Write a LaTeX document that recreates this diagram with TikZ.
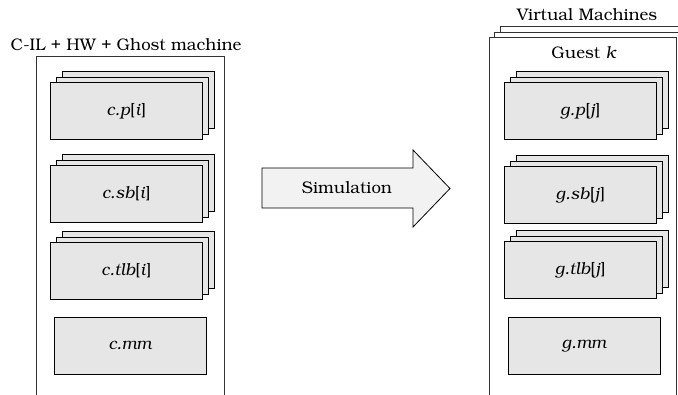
\documentclass[tikz,border=0pt]{standalone}
\usepackage[T1]{fontenc}
\usepackage{bookman}
\usetikzlibrary{positioning}

\definecolor{boxfill}{HTML}{E6E6E6}
\definecolor{arrowfill}{HTML}{F2F2F2}
\definecolor{frameline}{HTML}{333333}

\tikzset{
  layer/.style={draw=black, fill=boxfill, line width=0.9pt, anchor=north west,
    inner sep=0pt, minimum width=152pt, minimum height=57pt},
  frame/.style={draw=frameline, line width=0.8pt},
  caption/.style={inner sep=0pt, font=\fontsize{16.8}{19}\selectfont},
  lbl/.style={inner sep=0pt, font=\fontsize{16.8}{19}\selectfont}
}

% three stacked sheets: back, middle, front (front is named #1)
\newcommand{\sheetstack}[4]{%
  \node[layer] (#1-b2) at (#2+12,#3-11) {};
  \node[layer] (#1-b1) at (#2+6,#3-5.5) {};
  \node[layer] (#1) at (#2,#3) {};
  \node[lbl] (#1-t) at (#1.center) {#4};
}

\begin{document}
\begin{tikzpicture}[x=1pt,y=-1pt]
\useasboundingbox (0,0) rectangle (678,394);

% ---- concrete machine (left) ----
\node[caption] (ctitle) at (126,45) {C-IL + HW + Ghost machine};
\coordinate (cbl) at (36,400);
\coordinate (cbr) at (224,400);
\draw[frame] (cbl) -- (36,56) -- (224,56) -- (cbr);

\sheetstack{cp}{50}{82}{\textit{c.p}[\textit{i}]}
\sheetstack{csb}{50}{165}{\textit{c.sb}[\textit{i}]}
\sheetstack{ctlb}{50}{242}{\textit{c.tlb}[\textit{i}]}
\node[layer] (cmm) at (54,317) {};
\node[lbl] (cmm-t) at (cmm.center) {\textit{c.mm}};

% ---- simulation arrow ----
\filldraw[draw=black, fill=arrowfill, line width=0.8pt]
  (262,168) -- (413,168) -- (413,150) -- (450,188.5) -- (413,227) -- (413,208) -- (262,208) -- cycle;
\node[lbl] (sim) at (347,188) {Simulation};

% ---- virtual machines (right) ----
\node[caption] (vtitle) at (587,15) {Virtual Machines};
\draw[frame, fill=white] (500,400) -- (500,26) -- (690,26) -- (690,400);
\draw[frame, fill=white] (494,400) -- (494,32) -- (690,32) -- (690,400);
\draw[frame, fill=white] (489,400) -- (489,37) -- (676.5,37) -- (676.5,400);
\node[caption] (gtitle) at (584,53) {Guest \textit{k}};

\sheetstack{gp}{504}{82}{\textit{g.p}[\textit{j}]}
\sheetstack{gsb}{504}{166}{\textit{g.sb}[\textit{j}]}
\sheetstack{gtlb}{504}{241}{\textit{g.tlb}[\textit{j}]}
\node[layer] (gmm) at (508,317) {};
\node[lbl] (gmm-t) at (gmm.center) {\textit{g.mm}};

\end{tikzpicture}
\end{document}
